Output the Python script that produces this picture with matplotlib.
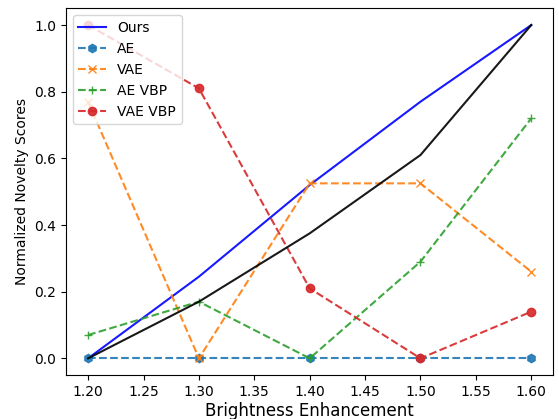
import numpy as np
import matplotlib.pyplot as plt

# brightness levels on the x axis
brightness = [1.2, 1.3, 1.4, 1.5, 1.6]

# normalized novelty scores per method
ours = [0.0, 0.245, 0.52, 0.77, 1.0]
ae = [0.0, 0.0, 0.0, 0.0, 0.0]
vae = [0.77, 0.0, 0.525, 0.525, 0.26]
ae_vbp = [0.07, 0.17, 0.0, 0.29, 0.72]
vae_vbp = [1.0, 0.81, 0.21, 0.0, 0.14]
reference = [0.0, 0.17, 0.375, 0.61, 1.0]

fig, ax = plt.subplots(figsize=(5.59, 4.19), dpi=100)

ax.plot(brightness, ours, 'b-', alpha=0.9, label='Ours')
ax.plot(brightness, ae, 'h--', alpha=0.9, label='AE')
ax.plot(brightness, vae, 'x--', alpha=0.9, label='VAE')
ax.plot(brightness, ae_vbp, '+--', alpha=0.9, label='AE VBP')
ax.plot(brightness, vae_vbp, 'o--', alpha=0.9, label='VAE VBP')
ax.plot(brightness, reference, 'k-', alpha=0.9, label='_nolegend_')

ticks = np.arange(1.2, 1.61, 0.05)
ax.set_xticks(ticks)
ax.set_xticklabels([f"{t:.2f}" for t in ticks])
ax.set_xlabel('Brightness Enhancement', fontsize=12, labelpad=2)
ax.set_ylabel('Normalized Novelty Scores', fontsize=10)
ax.legend(loc='upper left')

fig.subplots_adjust(left=0.118, right=0.99, top=0.98, bottom=0.105)
plt.savefig('out.png')
